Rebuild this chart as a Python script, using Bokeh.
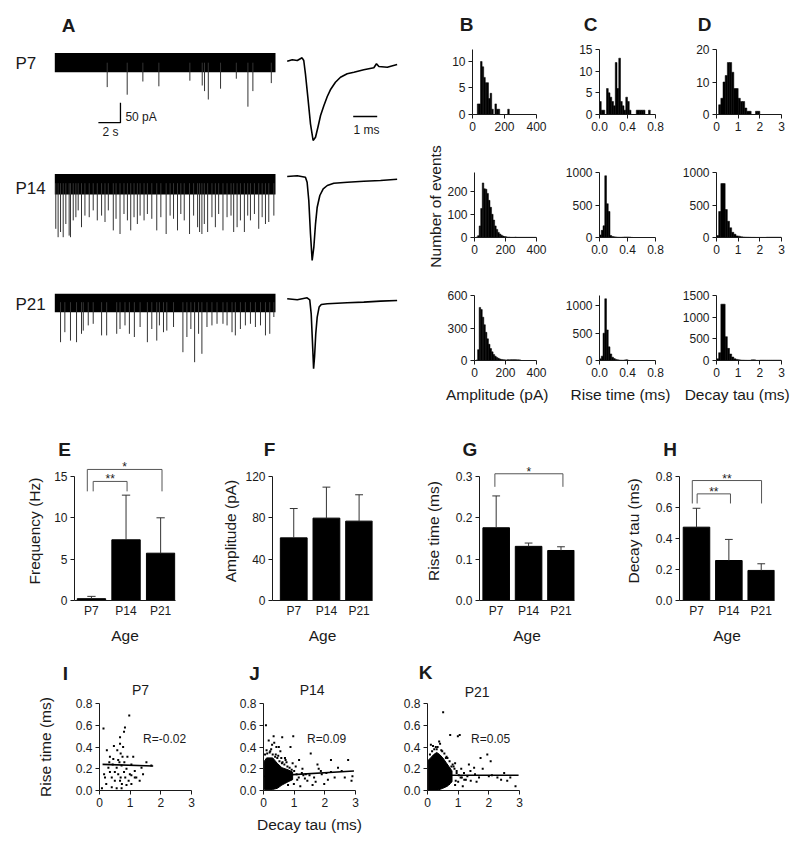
import math
from bokeh.plotting import figure
from bokeh.layouts import column, row
from bokeh.models import Range1d, FixedTicker, PrintfTickFormatter
from bokeh.core.properties import value
from bokeh.embed import file_html
from bokeh.resources import INLINE

FONT = "Liberation Sans"
INK = "#1a1a1a"

# ---------------- data ----------------
AGES = ["P7", "P14", "P21"]

# raw traces (s, pA): noise band + individual events (time, peak)
RAW_T = [0, 20]
P7_BAND_HI, P7_BAND_LO = [24, 24], [-24, -24]
P14_BAND_HI, P14_BAND_LO = [23, 23], [-28, -28]
P21_BAND_HI, P21_BAND_LO = [21, 21], [-25, -25]
P7_EV_T = [4.75, 6.56, 7.98, 9.43, 12.24, 13.36, 13.57, 13.91, 15.02, 16.45, 17.50, 17.95, 19.62]
P7_EV_A = [-61, -80, -47, -59, -45, -57, -71, -92, -65, -40, -110, -71, -51]
P14_EV_T = [0.09, 0.30, 0.52, 0.76, 1.0, 1.3, 1.42, 1.67, 1.91, 2.12, 2.42, 2.73, 3.12, 3.48, 3.85,
            4.24, 4.55, 4.85, 5.30, 5.55, 5.91, 6.27, 6.58, 6.88, 7.18, 7.48, 7.73, 8.09, 8.39, 8.79,
            9.24, 9.61, 10.09, 10.45, 10.76, 11.12, 11.42, 11.73, 12.21, 12.58, 12.94, 13.12, 13.33,
            13.55, 13.85, 14.24, 14.55, 14.85, 15.24, 15.61, 15.97, 16.21, 16.52, 16.82, 17.18, 17.48,
            17.73, 18.09, 18.48, 18.79, 19.09, 19.39, 19.85]
P14_EV_A = [-114, -135, -122, -135, -102, -131, -135, -93, -85, -68, -110, -81, -85, -68, -93,
            -81, -97, -68, -118, -89, -127, -77, -93, -118, -85, -102, -81, -93, -77, -89,
            -118, -85, -127, -81, -89, -118, -77, -93, -127, -81, -110, -122, -127,
            -102, -122, -85, -110, -77, -118, -85, -81, -122, -110, -93, -122, -81,
            -93, -77, -114, -85, -102, -97, -81]
P21_EV_T = [0.52, 0.91, 1.42, 1.97, 2.42, 2.58, 3.03, 3.48, 4.24, 4.70, 5.61, 5.91, 6.36, 6.76, 7.21,
            7.73, 8.39, 8.79, 9.24, 9.48, 9.85, 10.15, 10.76, 11.61, 11.97, 12.33, 12.67, 13.03, 13.33,
            13.79, 14.24, 14.70, 15.24, 15.61, 16.06, 16.36, 16.82, 17.27, 17.73, 18.18, 18.64, 19.09,
            19.48, 19.85]
P21_EV_A = [-100, -75, -96, -100, -79, -71, -58, -54, -83, -83, -79, -67, -58, -79, -87,
            -62, -100, -67, -96, -58, -75, -71, -62, -125, -87, -67, -150, -79, -129,
            -62, -58, -54, -54, -58, -75, -83, -67, -58, -54, -62, -58, -83,
            -79, -37]

# averaged events (ms, pA)
AVG7_T = [0.0, 0.21, 0.42, 0.62, 0.69, 0.76, 0.86, 0.97, 1.08, 1.18, 1.28, 1.39, 1.53, 1.67, 1.80,
          2.01, 2.22, 2.50, 2.78, 3.19, 3.61, 3.72, 3.82, 4.17, 4.58]
AVG7_A = [-0.7, 0.7, 0, 2.7, 0, -13.3, -36.7, -63.3, -80, -76.7, -66.7, -55, -45, -36, -29.3,
          -21.7, -16.7, -13.3, -11.7, -9.3, -7.3, -3.3, -6, -6.7, -4]
AVG14_T = [0.0, 0.42, 0.76, 0.83, 0.90, 0.97, 1.04, 1.11, 1.18, 1.25, 1.36, 1.50, 1.67, 1.94, 2.50,
           3.19, 3.89, 4.58]
AVG14_A = [0, 0.7, -0.7, -5.7, -24, -57.3, -84, -70.7, -47.3, -30.7, -19, -12.3, -9, -6.7, -5.7,
           -4.7, -4, -2.7]
AVG21_T = [0.0, 0.42, 0.83, 0.94, 1.0, 1.05, 1.10, 1.14, 1.19, 1.25, 1.33, 1.42, 1.67, 2.5, 3.19, 3.89, 4.58]
AVG21_A = [0, -1, 1, -1, -15, -41.7, -70, -58, -35, -18.3, -8.3, -5.7, -5, -4, -3.3, -2.3, -1.7]

SCALE_S, SCALE_PA, SCALE_MS = 2, 50, 1

# histograms (counts per bin)
AMP_BIN, RISE_BIN, DECAY_BIN = 10, 0.025, 0.1
AMP_P7 = [0, 0, 0, 2, 2, 10, 9, 7, 6, 6, 3, 4, 1, 0, 2, 1, 1, 0, 0, 0, 0, 0, 1]
RISE_P7 = [3, 1, 1, 0, 6, 5, 4, 3, 2, 12, 6, 13, 3, 2, 1, 4, 3, 1, 0, 0, 0, 1, 1, 1, 1, 1, 0, 0, 1]
DECAY_P7 = [0, 3, 5, 10, 12, 16, 16, 13, 8, 8, 5, 4, 4, 2, 1, 1, 0, 0, 1, 1]
AMP_P14 = [0, 2, 8, 50, 125, 235, 210, 208, 190, 160, 130, 100, 75, 50, 35, 22, 15, 10, 6, 4, 3, 2, 2,
           1, 1, 1, 2, 1, 1, 1, 1, 1, 1, 1, 1, 1, 1, 1, 1, 1]
RISE_P14 = [40, 110, 180, 950, 520, 400, 30, 15, 10, 8, 5, 4, 4, 6, 8, 8, 8, 6, 2]
DECAY_P14 = [30, 400, 830, 830, 430, 250, 150, 80, 50, 25, 20, 12, 8, 6, 5, 4, 3, 3, 2, 2, 2, 2, 2,
             5, 5, 5, 5, 5, 5, 5]
AMP_P21 = [0, 5, 100, 490, 470, 400, 330, 260, 200, 150, 110, 80, 55, 40, 28, 20, 14, 10, 8, 6, 5,
           8, 6, 8, 8, 8, 8, 6, 6, 5]
RISE_P21 = [30, 80, 500, 1130, 560, 250, 120, 60, 35, 20, 12, 8, 6, 5, 10, 15, 5]
DECAY_P21 = [40, 180, 1300, 1300, 550, 280, 150, 80, 40, 25, 15, 10, 8, 6, 5, 5, 15, 15, 5, 5, 8, 8,
             8, 8, 8, 8, 8, 8, 8, 8]
AMP_TICKS, RISE_TICKS, DECAY_TICKS = [0, 200, 400], [0, 0.4, 0.8], [0, 1, 2, 3]
HIST_XLABELS = ["Amplitude (pA)", "Rise time (ms)", "Decay tau (ms)"]

# bar charts: mean and upper error
FREQ_MEAN, FREQ_ERR = [0.22, 7.34, 5.72], [0.28, 5.4, 4.28]
AMPL_MEAN, AMPL_ERR = [60.6, 79.7, 76.8], [28.4, 30.0, 25.5]
RISE_MEAN, RISE_ERR = [0.176, 0.131, 0.121], [0.077, 0.008, 0.009]
DECAY_MEAN, DECAY_ERR = [0.473, 0.258, 0.194], [0.122, 0.136, 0.043]
# significance brackets: x0, x1, top, drop, label
E_BRK = ([-0.12, 0.05], [2.04, 1.03], [15.85, 14.4], [13.2, 13.2], ["*", "**"])
G_BRK = ([-0.04], [2.06], [0.3066], [0.275], ["*"])
H_BRK = ([-0.13, 0.02], [2.01, 1.05], [0.774, 0.688], [0.626, 0.626], ["**", "**"])

# scatter: decay tau (ms) vs rise time (ms)
I_X = [0.13, 0.24, 0.34, 0.40, 0.50, 0.56, 0.45, 0.61, 0.69, 0.77, 0.83, 0.97, 0.67, 0.72, 0.88, 0.99,
       1.04, 1.10, 1.15, 1.31, 0.34, 0.29, 0.18, 0.22, 0.40, 0.56, 0.72, 0.88, 1.04, 1.15, 1.42, 1.53,
       0.67, 0.80, 0.47, 0.58, 0.65, 0.75, 0.81, 0.91, 1.04, 0.50, 0.61, 0.69, 0.80, 0.43, 0.32, 0.15,
       0.08, 0.67, 0.73, 0.84, 0.95, 1.20, 1.37, 1.69]
I_Y = [0.57, 0.37, 0.17, 0.12, 0.09, 0.21, 0.29, 0.28, 0.34, 0.40, 0.58, 0.69, 0.43, 0.23, 0.20, 0.15,
       0.24, 0.31, 0.12, 0.09, 0.31, 0.21, 0.12, 0.06, 0.03, 0.02, 0.02, 0.05, 0.06, 0.18, 0.15, 0.26,
       0.49, 0.54, 0.41, 0.37, 0.26, 0.31, 0.26, 0.31, 0.14, 0.17, 0.15, 0.12, 0.17, 0.24, 0.26, 0.15,
       0.02, 0.09, 0.06, 0.12, 0.09, 0.12, 0.21, 0.23]
J_X = [0.08, 0.61, 0.97, 0.33, 0.50, 0.88, 0.17, 1.16, 1.54, 1.27, 1.76, 2.20, 2.43, 2.76, 2.87, 1.98,
       1.65, 1.43, 0.99, 2.32, 2.65, 1.87, 1.38, 1.05, 1.10, 1.30, 0.95, 1.60, 2.05, 2.55, 0.25, 0.40,
       0.70, 0.75, 0.20, 0.55, 1.20, 1.80, 2.10, 2.90,
       0.12, 0.22, 0.30, 0.38, 0.45, 0.52, 0.60, 0.68, 0.78, 0.85, 0.92, 1.00, 1.08, 1.15, 0.05, 0.10,
       0.28, 0.42, 0.58, 0.72, 0.35, 0.48, 0.62, 0.80, 1.25, 1.35, 1.50, 1.70, 1.90, 2.20]
J_Y = [0.60, 0.49, 0.50, 0.50, 0.40, 0.40, 0.46, 0.28, 0.34, 0.20, 0.24, 0.28, 0.21, 0.28, 0.09, 0.06,
       0.12, 0.09, 0.06, 0.12, 0.12, 0.18, 0.15, 0.22, 0.10, 0.14, 0.25, 0.05, 0.16, 0.18, 0.38, 0.33,
       0.30, 0.26, 0.35, 0.36, 0.04, 0.20, 0.10, 0.13,
       0.34, 0.36, 0.33, 0.31, 0.30, 0.27, 0.25, 0.24, 0.22, 0.21, 0.19, 0.18, 0.15, 0.12, 0.33, 0.37,
       0.42, 0.40, 0.30, 0.28, 0.44, 0.32, 0.26, 0.05, 0.16, 0.11, 0.14, 0.08, 0.15, 0.17]
J_CORE_X = [0.03, 0.03, 0.10, 0.30, 0.45, 0.60, 0.80, 0.95, 0.95, 0.80, 0.60, 0.45, 0.30]
J_CORE_Y = [0.01, 0.27, 0.30, 0.30, 0.25, 0.21, 0.19, 0.17, 0.10, 0.08, 0.05, 0.02, 0.01]
K_X = [0.51, 0.74, 1.05, 0.27, 0.41, 0.11, 0.99, 1.73, 1.95, 2.06, 1.35, 1.52, 1.19, 1.68, 1.41, 2.28,
       2.60, 2.87, 1.08, 0.92, 0.85, 0.95, 1.25, 1.60, 2.00, 2.40, 0.30, 0.60, 0.90, 1.10,
       0.15, 0.22, 0.33, 0.45, 0.55, 0.65, 0.72, 0.82, 0.88, 0.95, 1.02, 1.12, 1.20, 1.30, 0.08, 0.18,
       0.38, 0.48, 0.62, 0.78, 1.40, 1.55, 1.80, 2.10, 2.50, 2.70, 0.70, 0.90, 1.00, 1.15]
K_Y = [0.72, 0.51, 0.51, 0.40, 0.43, 0.42, 0.50, 0.30, 0.33, 0.27, 0.24, 0.21, 0.16, 0.12, 0.09, 0.12,
       0.09, 0.04, 0.12, 0.09, 0.22, 0.18, 0.10, 0.08, 0.13, 0.10, 0.38, 0.30, 0.25, 0.20,
       0.36, 0.38, 0.40, 0.37, 0.34, 0.30, 0.27, 0.24, 0.20, 0.16, 0.14, 0.12, 0.10, 0.13, 0.33, 0.41,
       0.45, 0.36, 0.31, 0.22, 0.18, 0.15, 0.20, 0.14, 0.16, 0.12, 0.06, 0.05, 0.08, 0.04]
K_CORE_X = [0.03, 0.03, 0.10, 0.20, 0.30, 0.40, 0.50, 0.60, 0.70, 0.80, 0.80, 0.65, 0.50, 0.35, 0.20, 0.10]
K_CORE_Y = [0.0, 0.28, 0.30, 0.33, 0.35, 0.33, 0.30, 0.26, 0.22, 0.18, 0.08, 0.04, 0.02, 0.005, 0.0, 0.0]
I_FIT_X, I_FIT_Y = [0.1, 1.75], [0.24, 0.225]
J_FIT_X, J_FIT_Y = [0.02, 2.95], [0.13, 0.18]
K_FIT_X, K_FIT_Y = [0.05, 2.97], [0.14, 0.14]
R_TEXT = ["R=-0.02", "R=0.09", "R=0.05"]
SC_XT, SC_YT = [0, 1, 2, 3], [0, 0.2, 0.4, 0.6, 0.8]


# ---------------- helpers ----------------
def mk(w, h, xr, yr, l=0, r=0, t=0, b=0, axes=True):
    p = figure(width=w, height=h, x_range=Range1d(*xr), y_range=Range1d(*yr),
               output_backend="svg", toolbar_location=None,
               min_border_left=l, min_border_right=r, min_border_top=t, min_border_bottom=b,
               x_axis_type="linear" if axes else None, y_axis_type="linear" if axes else None)
    p.outline_line_color = None
    p.background_fill_color = "white"
    p.border_fill_color = "white"
    if axes:
        p.grid.visible = False
        for ax in p.axis:
            ax.axis_line_color = INK
            ax.major_tick_line_color = INK
            ax.major_tick_out = 4
            ax.major_tick_in = 0
            ax.minor_tick_line_color = None
            ax.major_label_text_font = FONT
            ax.major_label_text_font_size = "12px"
            ax.major_label_text_color = INK
            ax.major_label_standoff = 3
            ax.axis_label_text_font = FONT
            ax.axis_label_text_font_size = "15.5px"
            ax.axis_label_text_font_style = "normal"
            ax.axis_label_text_color = INK
    return p


def gtext(p, x, y, t, size, bold=False, align="left", baseline="middle", angle=0):
    p.text(x=[x], y=[y], text=[t], text_font=value(FONT), text_font_size=value(f"{size}px"),
           text_font_style="bold" if bold else "normal", text_align=align,
           text_baseline=baseline, angle=angle, text_color=INK)


def strip(w, h):
    # text strip: x in px from its left edge, y in px from its top edge
    return mk(w, h, (0, w), (h, 0), axes=False)


# ---------------- panel A ----------------
RAW_XR = (-4.921, 20.453)
AVG_XR = (-0.279, 5.054)


def raw_fig(h, yr, hi, lo, ev_t, ev_a, name, name_y):
    p = mk(280, h, RAW_XR, yr, axes=False)
    p.varea(x=RAW_T, y1=lo, y2=hi, fill_color="black")
    p.segment(x0=ev_t, y0=[0] * len(ev_t), x1=ev_t, y1=ev_a, line_color="#333333", line_width=1)
    gtext(p, -3.56, name_y, name, 17)
    return p


def avg_fig(h, yr, t, a):
    p = mk(128, h, AVG_XR, yr, axes=False)
    p.line(t, a, line_color="black", line_width=1.6)
    return p


raw1 = raw_fig(148, (-214.5, 155.5), P7_BAND_HI, P7_BAND_LO, P7_EV_T, P7_EV_A, AGES[0], -2)
gtext(raw1, 1.24, 93, "A", 19, bold=True, align="center")
sb_x0, sb_y0 = 3.95, -150
raw1.line([sb_x0, sb_x0 + SCALE_S, sb_x0 + SCALE_S], [sb_y0, sb_y0, sb_y0 + SCALE_PA],
          line_color="black", line_width=1.3)
gtext(raw1, sb_x0 + SCALE_S + 0.45, sb_y0 + SCALE_PA * 0.3, f"{SCALE_PA} pA", 12)
gtext(raw1, sb_x0 + SCALE_S / 2 + 0.1, sb_y0 - 24, f"{SCALE_S} s", 12, align="center")
avg1 = avg_fig(148, (-88, 60), AVG7_T, AVG7_A)
avg1.line([2.75, 2.75 + SCALE_MS], [-56, -56], line_color="black", line_width=1.3)
gtext(avg1, 2.75 + SCALE_MS / 2 + 0.05, -69, f"{SCALE_MS} ms", 12, align="center")

raw2 = raw_fig(120, (-213.25, 86.75), P14_BAND_HI, P14_BAND_LO, P14_EV_T, P14_EV_A, AGES[1], -14)
avg2 = avg_fig(120, (-92, 28), AVG14_T, AVG14_A)
raw3 = raw_fig(140, (-265.75, 84.25), P21_BAND_HI, P21_BAND_LO, P21_EV_T, P21_EV_A, AGES[2], -6.5)
avg3 = avg_fig(140, (-109.7, 30.3), AVG21_T, AVG21_A)

panelA = column(row(raw1, avg1), row(raw2, avg2), row(raw3, avg3))

# ---------------- histograms B-D ----------------
def hist(counts, bw, w, h, xr, yr, l, r, t, b, xt, yt, xfmt=None):
    p = mk(w, h, xr, yr, l, r, t, b)
    left = [i * bw for i in range(len(counts))]
    right = [(i + 1) * bw for i in range(len(counts))]
    p.quad(left=left, right=right, bottom=0, top=counts, fill_color="black",
           line_color="black", line_width=0.5)
    p.xaxis.ticker = FixedTicker(ticks=xt)
    p.yaxis.ticker = FixedTicker(ticks=yt)
    if xfmt:
        p.xaxis.formatter = PrintfTickFormatter(format=xfmt)
    return p


hB1 = hist(AMP_P7, AMP_BIN, 104, 98, (0, 400), (0, 12.26), 28, 12, 11, 22, AMP_TICKS, [0, 5, 10])
hC1 = hist(RISE_P7, RISE_BIN, 124, 98, (0, 0.8), (0, 15), 51, 17, 11, 22, RISE_TICKS, [0, 5, 10, 15], "%.1f")
hD1 = hist(DECAY_P7, DECAY_BIN, 126, 98, (0, 3), (0, 20), 44, 17, 11, 22, DECAY_TICKS, [0, 10, 20])
hB2 = hist(AMP_P14, AMP_BIN, 104, 123, (0, 400), (0, 280), 28, 12, 36, 22, AMP_TICKS, [0, 100, 200])
hC2 = hist(RISE_P14, RISE_BIN, 124, 123, (0, 0.8), (0, 1000), 51, 17, 36, 22, RISE_TICKS, [0, 500, 1000], "%.1f")
hD2 = hist(DECAY_P14, DECAY_BIN, 126, 123, (0, 3), (0, 1000), 44, 17, 36, 22, DECAY_TICKS, [0, 500, 1000])
hB3 = hist(AMP_P21, AMP_BIN, 104, 123, (0, 400), (0, 600), 28, 12, 36, 22, AMP_TICKS, [0, 300, 600])
hC3 = hist(RISE_P21, RISE_BIN, 124, 123, (0, 0.8), (0, 1190), 51, 17, 36, 22, RISE_TICKS, [0, 500, 1000], "%.1f")
hD3 = hist(DECAY_P21, DECAY_BIN, 126, 123, (0, 3), (0, 1500), 44, 17, 36, 22, DECAY_TICKS, [0, 500, 1000, 1500])

hist_top = strip(354, 38)
gtext(hist_top, 22, 23.5, "B", 19, bold=True, align="center")
gtext(hist_top, 146, 23.5, "C", 19, bold=True, align="center")
gtext(hist_top, 260, 23.5, "D", 19, bold=True, align="center")
hist_bot = strip(354, 26)
for xc, t in zip([52.7, 176, 292.7], HIST_XLABELS):
    gtext(hist_bot, xc, 12, t, 15.5, align="center")

ylab = mk(36, 408, (0, 36), (0, 408), axes=False)
gtext(ylab, 27, 202, "Number of events", 15.5, align="center", angle=math.pi / 2)

hists = row(ylab, column(hist_top, row(hB1, hC1, hD1), row(hB2, hC2, hD2), row(hB3, hC3, hD3), hist_bot))
top = row(panelA, hists)

# ---------------- bar charts E-H ----------------
def bars(w, l, r, xr, yr, means, errs, ytk, bound, ylabel, stand, fmt=None, brk=None):
    p = mk(w, 187, xr, yr, l, r, 0, 48)
    xs = list(range(len(AGES)))
    p.vbar(x=xs, top=means, width=0.82, fill_color="black", line_color="black")
    up = [m + e for m, e in zip(means, errs)]
    p.segment(x0=xs, y0=means, x1=xs, y1=up, line_color="#333333", line_width=1)
    p.segment(x0=[x - 0.12 for x in xs], y0=up, x1=[x + 0.12 for x in xs], y1=up,
              line_color="#333333", line_width=1)
    if brk:
        x0, x1, tp, dr, tx = brk
        p.multi_line(xs=[[a, a, b, b] for a, b in zip(x0, x1)],
                     ys=[[d, t, t, d] for t, d in zip(tp, dr)], line_color="#555555", line_width=1)
        p.text(x=[(a + b) / 2 for a, b in zip(x0, x1)], y=tp, text=tx, text_font=value(FONT),
               text_font_size=value("12px"), text_align="center", text_baseline="bottom",
               y_offset=5, text_color=INK)
    p.xaxis.ticker = FixedTicker(ticks=xs)
    p.xaxis.major_label_overrides = {i: a for i, a in enumerate(AGES)}
    p.xaxis.major_tick_out = 0
    p.xaxis.axis_label = "Age"
    p.xaxis.axis_label_standoff = 6
    p.yaxis.ticker = FixedTicker(ticks=ytk)
    p.yaxis.bounds = bound
    p.yaxis.axis_label = ylabel
    p.yaxis.axis_label_standoff = stand
    if fmt:
        p.yaxis.formatter = PrintfTickFormatter(format=fmt)
    return p


bE = bars(200, 74, 25, (-0.49, 2.43), (0, 16.81), FREQ_MEAN, FREQ_ERR, [0, 5, 10, 15], (0, 15),
          "Frequency (Hz)", 8, brk=E_BRK)
bF = bars(200, 72, 28, (-0.65, 2.41), (0, 134.5), AMPL_MEAN, AMPL_ERR, [0, 40, 80, 120], (0, 120),
          "Amplitude (pA)", 3)
bG = bars(200, 79, 26, (-0.515, 2.417), (0, 0.3363), RISE_MEAN, RISE_ERR, [0, 0.1, 0.2, 0.3], (0, 0.3),
          "Rise time (ms)", 11, "%.1f", brk=G_BRK)
bH = bars(198, 79, 24, (-0.525, 2.41), (0, 0.8968), DECAY_MEAN, DECAY_ERR, [0, 0.2, 0.4, 0.6, 0.8],
          (0, 0.8), "Decay tau (ms)", 11, "%.1f", brk=H_BRK)
bar_top = strip(798, 53)
for xc, t in zip([64, 269, 469.5, 669.5], ["E", "F", "G", "H"]):
    gtext(bar_top, xc, 41, t, 19, bold=True, align="center")
mid = column(bar_top, row(bE, bF, bG, bH))

# ---------------- scatter I-K ----------------
def scat(w, l, r, xs, ys, fx, fy, core=None, xlabel=None, ylabel=None, rtext=""):
    p = mk(w, 144, (0, 3), (0, 0.8), l, r, 5, 52)
    if core:
        p.patch(core[0], core[1], fill_color="black", line_color="black", line_width=1)
    p.scatter(xs, ys, marker="square", size=2, fill_color="black", line_color=None)
    p.line(fx, fy, line_color="black", line_width=1.6)
    p.xaxis.ticker = FixedTicker(ticks=SC_XT)
    p.yaxis.ticker = FixedTicker(ticks=SC_YT)
    p.yaxis.formatter = PrintfTickFormatter(format="%.1f")
    gtext(p, 1.42, 0.47, rtext, 12)
    if xlabel:
        p.xaxis.axis_label = xlabel
        p.xaxis.axis_label_standoff = 6
    if ylabel:
        p.yaxis.axis_label = ylabel
        p.yaxis.axis_label_standoff = 19
    return p


sI = scat(215, 99, 24, I_X, I_Y, I_FIT_X, I_FIT_Y, ylabel="Rise time (ms)", rtext=R_TEXT[0])
sJ = scat(170, 48, 30, J_X, J_Y, J_FIT_X, J_FIT_Y, core=(J_CORE_X, J_CORE_Y), xlabel="Decay tau (ms)",
          rtext=R_TEXT[1])
sK = scat(413, 42, 279, K_X, K_Y, K_FIT_X, K_FIT_Y, core=(K_CORE_X, K_CORE_Y), rtext=R_TEXT[2])
sc_top = strip(798, 50)
for xc, yc, t in zip([65, 254, 425], [25, 25, 24], ["I", "J", "K"]):
    gtext(sc_top, xc, yc, t, 19, bold=True, align="center")
for xc, yc, t in zip([140, 311.7, 476.7], [41, 41, 43], AGES):
    gtext(sc_top, xc, yc, t, 14, align="center")
bottom = column(sc_top, row(sI, sJ, sK))

root = column(top, mid, bottom)
open("out.html", "w").write(file_html(root, INLINE, "figure"))
